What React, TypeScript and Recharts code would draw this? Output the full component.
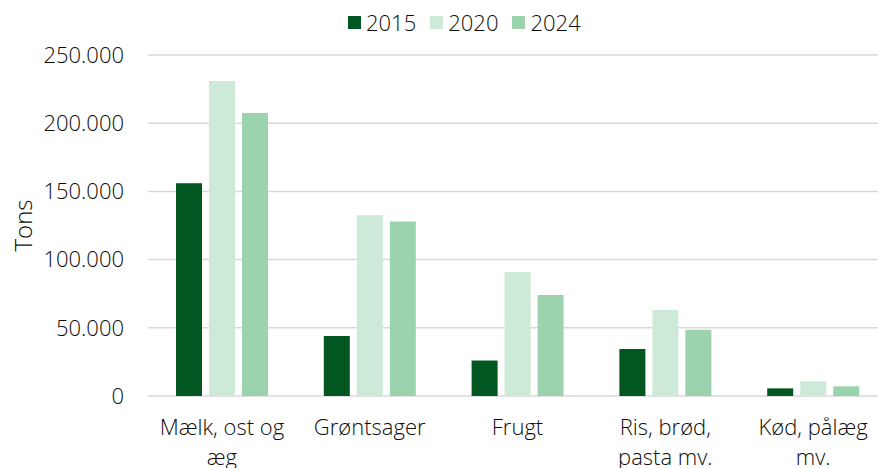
import React from 'react';
import { BarChart, Bar, XAxis, YAxis, CartesianGrid, Legend, Label } from 'recharts';

const categories = ['Mælk, ost og æg', 'Grøntsager', 'Frugt', 'Ris, brød, pasta mv.', 'Kød, pålæg mv.'];
const tickLines: string[][] = [['Mælk, ost og', 'æg'], ['Grøntsager'], ['Frugt'], ['Ris, brød,', 'pasta mv.'], ['Kød, pålæg', 'mv.']];
const values2015 = [156000, 44000, 26000, 34500, 5600];
const values2020 = [231000, 132500, 91000, 63000, 10800];
const values2024 = [207500, 128000, 74000, 48500, 7100];
const yTicks = [0, 50000, 100000, 150000, 200000, 250000];
const seriesNames = ['2015', '2020', '2024'];
const seriesColors = ['#02561f', '#cde9d7', '#9bd3ae'];

const data = categories.map((c, i) => ({
  name: c,
  '2015': values2015[i],
  '2020': values2020[i],
  '2024': values2024[i],
}));

const FONT = '"Open Sans", "Noto Sans", sans-serif';
const WEIGHT = 300;
const TEXT = '#0d0d0d';

const fmt = (v: number) => String(v).replace(/\B(?=(\d{3})+(?!\d))/g, '.');

const XTick = (props: any) => {
  const { x, y, payload } = props;
  const lines = tickLines[payload.index] || [String(payload.value)];
  return (
    <g transform={`translate(${x},${y})`}>
      <text textAnchor="middle" fill={TEXT} fontFamily={FONT} fontWeight={WEIGHT} fontSize={22}>
        {lines.map((l, i) => (
          <tspan key={i} x={0} y={31 + i * 30}>{l}</tspan>
        ))}
      </text>
    </g>
  );
};

const LegendContent = () => (
  <div style={{ display: 'flex', alignItems: 'center', paddingLeft: 348, paddingTop: 7, fontFamily: FONT, fontWeight: WEIGHT, fontSize: 22, color: TEXT }}>
    {seriesNames.map((n, i) => (
      <div key={n} style={{ display: 'flex', alignItems: 'center', marginRight: 14 }}>
        <div style={{ width: 13, height: 13, background: seriesColors[i], marginRight: 5 }} />
        <span style={{ lineHeight: '30px' }}>{n}</span>
      </div>
    ))}
  </div>
);

const YLabel = (props: any) => {
  const vb = props.viewBox || { x: 0, y: 0, width: 0, height: 0 };
  const cx = vb.x + 22;
  const cy = vb.y + vb.height / 2;
  return (
    <text x={cx} y={cy} transform={`rotate(-90 ${cx} ${cy})`} textAnchor="middle" dominantBaseline="central" fill={TEXT} fontFamily={FONT} fontWeight={WEIGHT} fontSize={24}>
      Tons
    </text>
  );
};

export default function App() {
  return (
    <div style={{ position: 'fixed', left: 0, top: 0, width: 878, height: 468, overflow: 'hidden', background: '#fff' }}>
      <BarChart width={890} height={468} data={data} margin={{ top: 0, right: 3, left: 0, bottom: 0 }} barSize={26} barGap={7}>
        <CartesianGrid vertical={false} stroke="#d9d9d9" strokeWidth={1.5} />
        <Legend verticalAlign="top" height={55} content={<LegendContent />} wrapperStyle={{ top: 0, left: 0, width: 890 }} />
        <XAxis dataKey="name" axisLine={false} tickLine={false} tick={<XTick />} height={72} interval={0} />
        <YAxis
          width={148}
          domain={[0, 250000]}
          ticks={yTicks}
          tickFormatter={fmt}
          axisLine={false}
          tickLine={false}
          tickMargin={18}
          tick={{ fill: TEXT, fontFamily: FONT, fontWeight: WEIGHT, fontSize: 22 }}
        >
          <Label content={<YLabel />} />
        </YAxis>
        {seriesNames.map((n, i) => (
          <Bar key={n} dataKey={n} fill={seriesColors[i]} isAnimationActive={false} />
        ))}
      </BarChart>
    </div>
  );
}
